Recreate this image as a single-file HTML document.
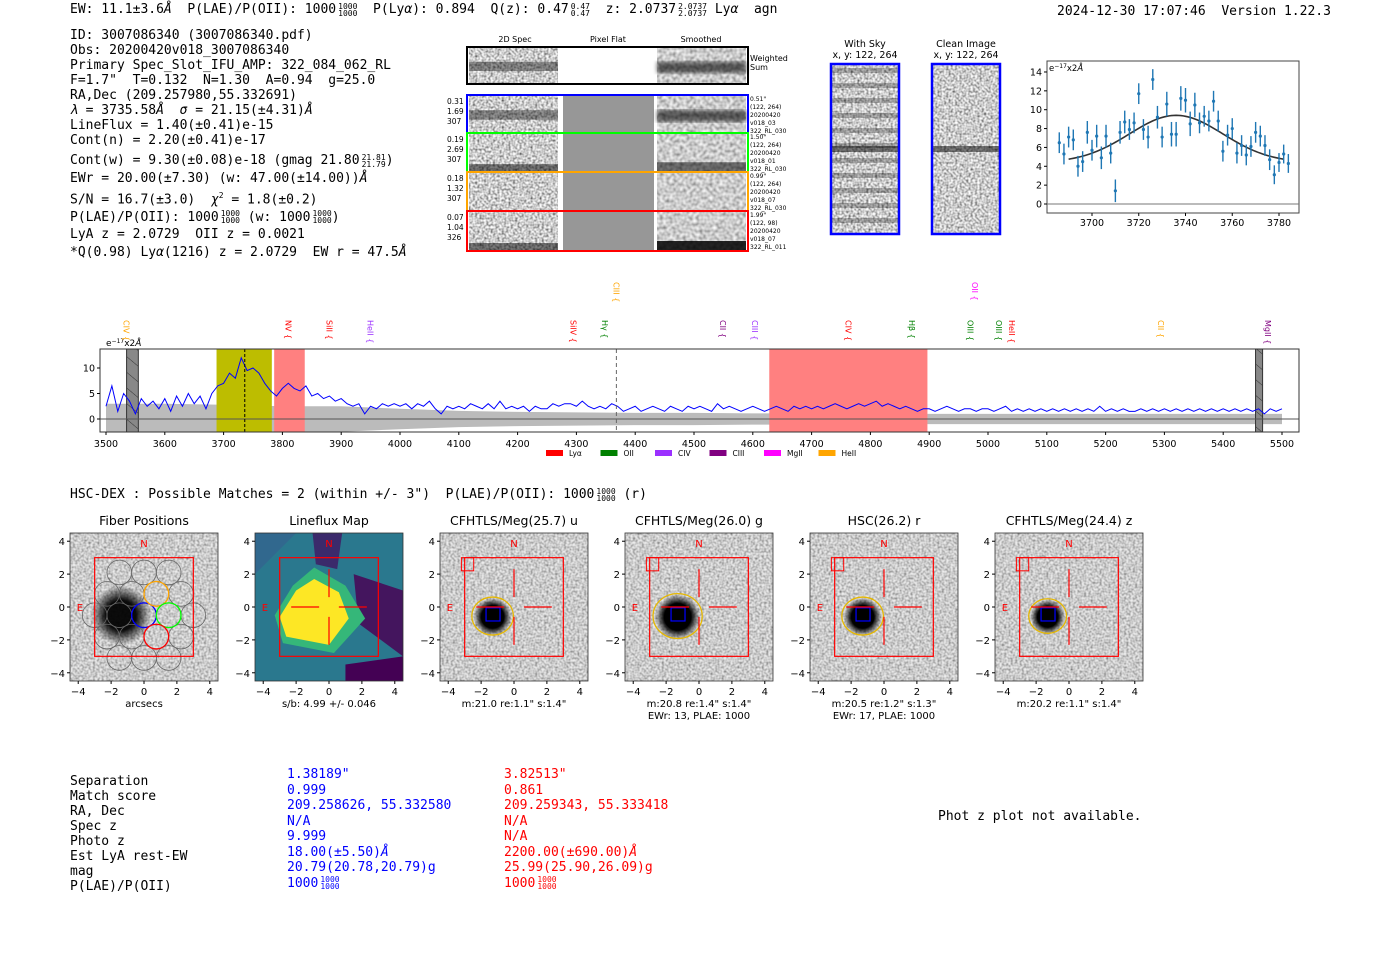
<!DOCTYPE html>
<html><head><meta charset="utf-8">
<style>
body{margin:0;width:1400px;height:953px;background:#fff;position:relative;overflow:hidden;font-family:"DejaVu Sans Mono","Liberation Mono",monospace;font-size:13px;color:#000}
.t{position:absolute;white-space:pre;line-height:15px}
.fr{display:inline-block;vertical-align:middle;font-size:8px;line-height:7px;text-align:center;margin-left:2px}
svg{position:absolute;left:0;top:0}
</style></head><body>
<svg id="g" width="1400" height="953">
<defs>
<filter id="noise" x="0" y="0" width="1" height="1"><feTurbulence type="fractalNoise" baseFrequency="0.45" numOctaves="1" seed="3"/><feColorMatrix type="matrix" values="1.6 0 0 0 -0.2  1.6 0 0 0 -0.2  1.6 0 0 0 -0.2  0 0 0 0 1"/></filter>
<filter id="noise2" x="0" y="0" width="1" height="1"><feTurbulence type="fractalNoise" baseFrequency="0.3" numOctaves="1" seed="7"/><feColorMatrix type="matrix" values="1.1 0 0 0 0.05  1.1 0 0 0 0.05  1.1 0 0 0 0.05  0 0 0 0 1"/></filter>
<filter id="blur2"><feGaussianBlur stdDeviation="2"/></filter>
<radialGradient id="blob"><stop offset="0" stop-color="#000"/><stop offset="0.6" stop-color="#000"/><stop offset="1" stop-color="#000" stop-opacity="0"/></radialGradient>
<radialGradient id="blob1"><stop offset="0" stop-color="#000"/><stop offset="0.5" stop-color="#000"/><stop offset="1" stop-color="#000" stop-opacity="0"/></radialGradient>
<clipPath id="specclip"><rect x="100" y="349" width="1199" height="83"/></clipPath>
<pattern id="hatch" width="12" height="12" patternUnits="userSpaceOnUse" patternTransform="rotate(-50)"><line x1="0" y1="0" x2="0" y2="12" stroke="#333" stroke-width="1"/></pattern>
</defs>
</svg>

<div class="t" style="left:70px;top:2px">EW: 11.1±3.6<i>Å</i>  P(LAE)/P(OII): 1000<span class="fr">1000<br>1000</span>  P(Ly<i>α</i>): 0.894  Q(z): 0.47<span class="fr">0.47<br>0.47</span>  z: 2.0737<span class="fr">2.0737<br>2.0737</span> Ly<i>α</i>  agn</div>
<div class="t" style="left:1057px;top:4px">2024-12-30 17:07:46  Version 1.22.3</div>

<div class="t" style="left:70px;top:28px;line-height:15px">ID: 3007086340 (3007086340.pdf)
Obs: 20200420v018_3007086340
Primary Spec_Slot_IFU_AMP: 322_084_062_RL
F=1.7"  T=0.132  N=1.30  A=0.94  g=25.0
RA,Dec (209.257980,55.332691)
<i>λ</i> = 3735.58<i>Å</i>  <i>σ</i> = 21.15(±4.31)<i>Å</i>
LineFlux = 1.40(±0.41)e-15
Cont(n) = 2.20(±0.41)e-17</div>
<div class="t" style="left:70px;top:152px;line-height:17.5px">Cont(w) = 9.30(±0.08)e-18 (gmag 21.80<span class="fr">21.81<br>21.79</span>)
EWr = 20.00(±7.30) (w: 47.00(±14.00))<i>Å</i>
S/N = 16.7(±3.0)  <i>χ</i><sup style="font-size:8px">2</sup> = 1.8(±0.2)
P(LAE)/P(OII): 1000<span class="fr">1000<br>1000</span> (w: 1000<span class="fr">1000<br>1000</span>)
LyA z = 2.0729  OII z = 0.0021
*Q(0.98) Ly<i>α</i>(1216) z = 2.0729  EW r = 47.5<i>Å</i></div>

<div class="t" style="left:70px;top:487px">HSC-DEX : Possible Matches = 2 (within +/- 3")  P(LAE)/P(OII): 1000<span class="fr">1000<br>1000</span> (r)</div>

<div class="t" style="left:70px;top:774px">Separation
Match score
RA, Dec
Spec z
Photo z
Est LyA rest-EW
mag
P(LAE)/P(OII)</div>
<div class="t" style="left:287px;top:767px;color:#0000ff;line-height:15.5px">1.38189"
0.999
209.258626, 55.332580
N/A
9.999
18.00(±5.50)<i>Å</i>
20.79(20.78,20.79)g
1000<span class="fr">1000<br>1000</span></div>
<div class="t" style="left:504px;top:767px;color:#ff0000;line-height:15.5px">3.82513"
0.861
209.259343, 55.333418
N/A
N/A
2200.00(±690.00)<i>Å</i>
25.99(25.90,26.09)g
1000<span class="fr">1000<br>1000</span></div>
<div class="t" style="left:938px;top:809px">Phot z plot not available.</div>

<script>
// ---------- data ----------
const specStart = 3500;
const specStep = 10;
const specFlux = [2.5,6.5,1.5,5,3.5,1,4,2.5,3.5,2,
4,1.5,4.5,2.5,5,3,4.5,2,5,6.5,
7,9,8,12,9.5,10,9,7,5.5,4.5,
6,7,6,5.5,6.5,4.5,5,4,4.5,3.5,
4,3,2.5,3,1,2.5,2,3,2.5,3,
2.5,3,2,3,2.5,3.5,2,1,2.5,2,
2.5,2,3,2.5,2,3,2,3.5,2,2.5,
2,2.5,1.5,2.5,2,2,3,2.5,3,3,
2.5,3.5,2.5,2,2.5,2,3,2.5,1.5,2,
2.5,1.5,2,2.5,2,1.5,2.5,2,1.5,2.5,
2,2.5,2,1.5,3,2,2.5,2,1.5,2,
2.5,2,1.5,2,2.5,2,1.5,2.5,2,2.5,
2,2.5,2,2.5,3,2.5,2,2.5,3,2.5,
3,3.5,2.5,3,2.5,2,2.5,2,1.5,2,
2,1.5,2,2.5,2,1.5,2,2,1.5,2,
2,1.5,2,2.5,1.5,2,1.5,2,1.5,2,
1.5,2,1.5,2,1.5,2,1.5,2,1.5,2.5,
1.5,2,1.5,2,1.5,1.5,2,1.5,2,1.5,
2,1.5,2,1.5,2,1.5,2,1.5,2,1.5,
2,1.5,2,1.5,2,1.5,2,1,2,1.5,2];
const errStep = 100;
const specErr = [3,3,2.8,2.5,2.5,2,1.6,1.4,1.3,1.2,1.2,1.1,1.1,1,1,1,1,1,1,1,1];
const specXTicks = [3500,3600,3700,3800,3900,4000,4100,4200,4300,4400,4500,4600,4700,4800,4900,5000,5100,5200,5300,5400,5500];
const specYTicks = [0,5,10];
const lineNames = ["CIV","NV","SiII","HeII","SiIV","CIII","Hγ","CII","CIII","CIV","Hβ","OII","OIII","OIII","HeII","CII","MgII"];
const lineWaves = [3535,3810,3880,3950,4295,4368,4349,4549,4604,4763,4871,4978,4970,5019,5041,5294,5476];
const lineColors = ["#ffa500","#ff0000","#ff0000","#9b30ff","#ff0000","#ffa500","#008000","#800080","#9b30ff","#ff0000","#008000","#ff00ff","#008000","#008000","#ff0000","#ffa500","#800080"];
const lineHigh = [0,0,0,0,0,1,0,0,0,0,0,1,0,0,0,0,0];
const legendNames = ["Lyα","OII","CIV","CIII","MgII","HeII"];
const legendColors = ["#ff0000","#008000","#9b30ff","#800080","#ff00ff","#ffa500"];

const fitWaves = [3686,3688,3690,3692,3694,3696,3698,3700,3702,3704,3706,3708,3710,3712,3714,3716,3718,3720,3722,3724,3726,3728,3730,3732,3734,3736,3738,3740,3742,3744,3746,3748,3750,3752,3754,3756,3758,3760,3762,3764,3766,3768,3770,3772,3774,3776,3778,3780,3782,3784];
const fitFlux = [6.5,5.3,7.1,6.8,4.0,4.5,7.6,5.7,7.2,4.9,7.2,5.4,1.4,7.6,8.7,7.9,8.6,11.7,7.9,7.1,13.2,9.2,7.1,10.6,7.4,7.4,11.2,11.0,8.5,10.5,8.6,9.3,8.8,10.9,8.8,5.6,7.3,8.0,5.4,6.2,5.2,6.1,7.6,7.2,6.2,4.7,3.1,4.4,5.3,4.3];
const fitErr = [1.1,1.1,1.1,1.1,1.1,1.1,1.2,1.1,1.2,1.2,1.2,1.1,1.2,1.2,1.2,1.1,1.1,1.1,1.1,1.2,1.1,1.2,1.1,1.3,1.3,1.3,1.3,1.3,1.3,1.3,1.1,1.1,1.1,1.1,1.1,1.1,1.1,1.1,1.1,1.1,1.1,1.1,1.1,1.1,1.1,1.1,1.0,1.0,1.0,1.0];
const fitParams = [4.4, 5.0, 3736, 20]; // base, amp, center, sigma
const fitXTicks = [3700,3720,3740,3760,3780];
const fitYTicks = [0,2,4,6,8,10,12,14];

const NS="http://www.w3.org/2000/svg";
const svg=document.getElementById('g');
function mk(tag,attrs,parent){const e=document.createElementNS(NS,tag);for(const k in attrs)e.setAttribute(k,attrs[k]);(parent||svg).appendChild(e);return e;}
function txt(x,y,s,attrs,parent){const e=mk('text',Object.assign({x:x,y:y,'font-family':'DejaVu Sans, Liberation Sans, sans-serif','font-size':10},attrs||{}),parent);e.textContent=s;return e;}

// ---------- 2D spectra cutouts ----------
txt(515,42,"2D Spec",{'font-size':8,'text-anchor':'middle'});
txt(608,42,"Pixel Flat",{'font-size':8,'text-anchor':'middle'});
txt(701,42,"Smoothed",{'font-size':8,'text-anchor':'middle'});
const rows=[[47,84,'#000',null],[95,133,'#0000ff',["0.31","1.69","307"]],[133,172,'#00ff00',["0.19","2.69","307"]],[172,211,'#ffa500',["0.18","1.32","307"]],[211,251,'#ff0000',["0.07","1.04","326"]]];
const rlabels=[["Weighted","Sum"],["0.51\"","(122, 264)","20200420","v018_03","322_RL_030"],["1.50\"","(122, 264)","20200420","v018_01","322_RL_030"],["0.99\"","(122, 264)","20200420","v018_07","322_RL_030"],["1.99\"","(122, 98)","20200420","v018_07","322_RL_011"]];
rows.forEach((r,i)=>{
  const y0=r[0],h=r[1]-r[0];
  const a=mk('rect',{x:469,y:y0,width:89,height:h,fill:'#999',filter:'url(#noise)'});
  
  
  const b=mk('rect',{x:563,y:y0,width:91,height:h,fill:i==0?'#fff':'#979797'});
  
  
  const c=mk('rect',{x:657,y:y0,width:89,height:h,fill:'#aaa',filter:'url(#noise2)'});
  
  
  if(i<2){mk('rect',{x:469,y:y0+h*0.4,width:89,height:h*0.25,fill:'#000',opacity:0.4});mk('rect',{x:657,y:y0+h*0.4,width:89,height:h*0.3,fill:'#000',opacity:0.6,filter:'url(#blur2)'});}
  if(i==2||i==4){mk('rect',{x:657,y:y0+h*0.75,width:89,height:h*0.25,fill:'#000',opacity:i==4?0.85:0.5});mk('rect',{x:469,y:y0+h*0.8,width:89,height:h*0.2,fill:'#000',opacity:0.5});}
  const fr=mk('rect',{x:467,y:y0,width:281,height:h,fill:'none',stroke:r[2],'stroke-width':2});
  
  
  if(r[3]) r[3].forEach((s,k)=>txt(447,y0+9+k*10,s,{'font-size':7.5}));
  rlabels[i].forEach((s,k)=>txt(750,y0+(i==0?14:6)+k*(i==0?9:8),s,{'font-size':i==0?8:6}));
});
// sky images
[[831,"With Sky"],[932,"Clean Image"]].forEach((p,i)=>{
  txt(p[0]+34,47,p[1],{'font-size':9.5,'text-anchor':'middle'});
  txt(p[0]+34,58,"x, y: 122, 264",{'font-size':9.5,'text-anchor':'middle'});
  const im=mk('rect',{x:p[0],y:64,width:68,height:170,fill:'#999',filter:'url(#noise)'});
  
  
  if(i==0){for(let k=0;k<11;k++)mk('rect',{x:p[0],y:68+k*15,width:68,height:5,fill:'#000',opacity:0.25});}
  mk('rect',{x:p[0],y:146,width:68,height:6,fill:'#000',opacity:0.5});
  mk('rect',{x:p[0],y:64,width:68,height:170,fill:'none',stroke:'#0000ff','stroke-width':2.5});
});

// ---------- fit plot ----------
const fx=w=>1092+(w-3700)*2.3375, fy=v=>204-v*9.43;
const fbox=mk('rect',{x:1047,y:61,width:252,height:152,fill:'#fff',stroke:'#444','stroke-width':1});


mk('line',{x1:1047,x2:1299,y1:fy(0),y2:fy(0),stroke:'#777','stroke-width':1});
fitYTicks.forEach(v=>{mk('line',{x1:1044,x2:1047,y1:fy(v),y2:fy(v),stroke:'#000'});txt(1042,fy(v)+3.5,String(v),{'font-size':9.5,'text-anchor':'end'});});
fitXTicks.forEach(v=>{mk('line',{x1:fx(v),x2:fx(v),y1:213,y2:216,stroke:'#000'});txt(fx(v),226,String(v),{'font-size':9.5,'text-anchor':'middle'});});
txt(1049,71,"e",{'font-size':8.5}).innerHTML='e<tspan dy="-3" font-size="6">−17</tspan><tspan dy="3">x2</tspan><tspan font-style="italic">Å</tspan>';
let cp=[];
for(let w=3690;w<=3782;w+=1){const v=fitParams[0]+fitParams[1]*Math.exp(-Math.pow(w-fitParams[2],2)/(2*fitParams[3]*fitParams[3]));cp.push(fx(w)+','+fy(v));}
const fc=mk('polyline',{points:cp.join(' '),fill:'none',stroke:'#333','stroke-width':1.6});


fitWaves.forEach((w,i)=>{
  const eb=mk('line',{x1:fx(w),x2:fx(w),y1:fy(fitFlux[i]-fitErr[i]),y2:fy(fitFlux[i]+fitErr[i]),stroke:'#1f77b4','stroke-width':1.4});
  
  
  const pt=mk('circle',{cx:fx(w),cy:fy(fitFlux[i]),r:1.6,fill:'#1f77b4'});
  
  
});

// ---------- spectrum ----------
const sx=w=>106+(w-3500)*0.588, sy=v=>419-v*5.1;
const sbox=mk('rect',{x:100,y:349,width:1199,height:83,fill:'#fff',stroke:'#333','stroke-width':1});


const sg=mk('g',{'clip-path':'url(#specclip)'});
let up=[],dn=[];
specErr.forEach((e,i)=>{const w=3500+i*errStep;up.push(sx(w)+','+sy(e));dn.unshift(sx(w)+','+sy(-e));});
const band=mk('polygon',{points:up.concat(dn).join(' '),fill:'#bbb'},sg);


const regions=[[3535,3555,'#888',1],[5455,5467,'#888',1],[3688,3782,'#bdbd00',0],[3786,3838,'#ff8080',0],[4628,4897,'#ff8080',0]];
regions.forEach(r=>{
  const rr=mk('rect',{x:sx(r[0]),y:349,width:sx(r[1])-sx(r[0]),height:83,fill:r[2]},sg);
  
  
  if(r[3]){mk('rect',{x:sx(r[0]),y:349,width:sx(r[1])-sx(r[0]),height:83,fill:'url(#hatch)',stroke:'#333'},sg);}
});
mk('line',{x1:100,x2:1299,y1:sy(0),y2:sy(0),stroke:'#555','stroke-width':1},sg);
let sp=specFlux.map((v,i)=>sx(specStart+i*specStep)+','+sy(v));
const sl=mk('polyline',{points:sp.join(' '),fill:'none',stroke:'#0000ff','stroke-width':1},sg);


mk('line',{x1:sx(3736),x2:sx(3736),y1:349,y2:432,stroke:'#000','stroke-dasharray':'3,2'},sg);
mk('line',{x1:sx(4368),x2:sx(4368),y1:349,y2:432,stroke:'#666','stroke-dasharray':'4,3'},sg);
mk('rect',{x:100,y:349,width:1199,height:83,fill:'none',stroke:'#333','stroke-width':1});
specXTicks.forEach(v=>{mk('line',{x1:sx(v),x2:sx(v),y1:432,y2:435,stroke:'#000'});txt(sx(v),447,String(v),{'font-size':9.5,'text-anchor':'middle'});});
specYTicks.forEach(v=>{mk('line',{x1:97,x2:100,y1:sy(v),y2:sy(v),stroke:'#000'});txt(95,sy(v)+3.5,String(v),{'font-size':9.5,'text-anchor':'end'});});
txt(106,346,"e",{'font-size':9}).innerHTML='e<tspan dy="-3" font-size="6">−17</tspan><tspan dy="3">x2</tspan><tspan font-style="italic">Å</tspan>';
lineNames.forEach((n,i)=>{
  const x=sx(lineWaves[i]);const y0=lineHigh[i]?282:320;
  const t=txt(x-3,y0,n+' {',{'font-size':8,fill:lineColors[i],transform:'rotate(90 '+(x-3)+' '+y0+')'});
  
  
});
legendNames.forEach((n,i)=>{
  const x=546+i*54.5;
  const r=mk('rect',{x:x,y:450,width:17,height:6,fill:legendColors[i]});
  
  
  txt(x+23,456,n,{'font-size':7.5});
});

// ---------- image panels ----------
const panelTitles=["Fiber Positions","Lineflux Map","CFHTLS/Meg(25.7) u","CFHTLS/Meg(26.0) g","HSC(26.2) r","CFHTLS/Meg(24.4) z"];
const panelSubs=[["arcsecs"],["s/b: 4.99 +/- 0.046"],["m:21.0  re:1.1\"  s:1.4\""],["m:20.8  re:1.4\"  s:1.4\"","EWr: 13, PLAE: 1000"],["m:20.5  re:1.2\"  s:1.3\"","EWr: 17, PLAE: 1000"],["m:20.2  re:1.1\"  s:1.4\""]];
const blobR=[0,0,1.1,1.3,1.1,1.0];
const ticks=[-4,-2,0,2,4];
panelTitles.forEach((title,p)=>{
  const L=70+p*185, T=533, S=148;
  const px=u=>L+(u+4.5)*S/9, py=u=>T+(4.5-u)*S/9;
  const g=mk('g',{});
  
  
  const cp=mk('clipPath',{id:'pc'+p},g);mk('rect',{x:L,y:T,width:S,height:S},cp);
  const ig=mk('g',{'clip-path':'url(#pc'+p+')'},g);
  if(p==1){
    mk('rect',{x:L,y:T,width:S,height:S,fill:'#2a788e'},ig);
    mk('polygon',{points:[[px(-1),py(4.5)],[px(0.8),py(4.5)],[px(0.5),py(2.3)],[px(-0.8),py(2.6)]].join(' '),fill:'#3b2a6b'},ig);
    mk('polygon',{points:[[px(1.5),py(2)],[px(4.5),py(1)],[px(4.5),py(-3)],[px(1.8),py(-1)]].join(' '),fill:'#44155e'},ig);
    mk('polygon',{points:[[px(1),py(-3.5)],[px(4.5),py(-3)],[px(4.5),py(-4.5)],[px(1),py(-4.5)]].join(' '),fill:'#440154'},ig);
    mk('polygon',{points:[[px(-4.5),py(4.5)],[px(-2),py(4.5)],[px(-4.5),py(2)]].join(' '),fill:'#31688e'},ig);
    mk('polygon',{points:[[px(-2.2),py(1.3)],[px(-0.9),py(2.4)],[px(1),py(1.3)],[px(2.2),py(-0.7)],[px(0.3),py(-2.8)],[px(-2.8),py(-2.2)],[px(-3.3),py(-0.5)]].join(' '),fill:'#35b779'},ig);
    const y=mk('polygon',{points:[[px(-2),py(1)],[px(-0.9),py(1.7)],[px(0.6),py(0.9)],[px(1.2),py(-0.7)],[px(0),py(-2.3)],[px(-2.6),py(-1.8)],[px(-3),py(-0.6)]].join(' '),fill:'#fde725'},ig);
    
    
  } else {
    mk('rect',{x:L,y:T,width:S,height:S,fill:'#aaa',filter:'url(#noise)'},ig);
    mk('rect',{x:L,y:T,width:S,height:S,fill:'#ccc',opacity:0.35},ig);
    if(p==0){
      mk('circle',{cx:px(-1.4),cy:py(-0.5),r:30,fill:'url(#blob1)',opacity:0.95},ig);
      for(let j=-3;j<=3;j++)for(let i=-4;i<=4;i++){
        const cx=(i+(Math.abs(j)%2?0.5:0))*1.5, cy=j*1.3;
        if(Math.hypot(cx,cy)<3.6) mk('circle',{cx:px(cx),cy:py(cy-0.5),r:S/9*0.75,fill:'none',stroke:'#666','stroke-width':0.8},ig);
      }
      [[0,-0.5,'#0000ff'],[0.75,0.8,'#ffa500'],[1.5,-0.5,'#00ff00'],[0.75,-1.8,'#ff0000']].forEach(c=>mk('circle',{cx:px(c[0]),cy:py(c[1]),r:S/9*0.75,fill:'none',stroke:c[2],'stroke-width':1.3},ig));
    } else {
      const r=blobR[p]*S/9;
      mk('circle',{cx:px(-1.3),cy:py(-0.6),r:r*1.05,fill:'url(#blob)'},ig);
      mk('ellipse',{cx:px(-1.3),cy:py(-0.55),rx:r*1.15,ry:r*1.05,fill:'none',stroke:'#e6b800','stroke-width':1.3},ig);
      mk('rect',{x:px(-1.7),y:py(-0.05),width:S/9*0.85,height:S/9*0.8,fill:'none',stroke:'#0000ff','stroke-width':1.2},ig);
      mk('rect',{x:px(-3.2),y:py(3.0),width:S/9*0.75,height:S/9*0.8,fill:'none',stroke:'#ff0000','stroke-width':1},ig);
    }
  }
  mk('rect',{x:px(-3),y:py(3),width:6*S/9,height:6*S/9,fill:'none',stroke:'#ff0000','stroke-width':1.2},g);
  if(p>0){
    [[0,0.6,0,2.3],[0,-0.6,0,-2.3],[0.6,0,2.3,0],[-2.3,0,-0.6,0]].forEach(s=>mk('line',{x1:px(s[0]),y1:py(s[1]),x2:px(s[2]),y2:py(s[3]),stroke:'#ff0000','stroke-width':1.2},g));
  }
  txt(px(0),py(3.9)+4,"N",{'font-size':10,fill:'#ff0000','text-anchor':'middle'},g);
  txt(px(-3.9),py(0)+4,"E",{'font-size':10,fill:'#ff0000','text-anchor':'middle'},g);
  mk('rect',{x:L,y:T,width:S,height:S,fill:'none',stroke:'#333','stroke-width':0.8},g);
  ticks.forEach(v=>{
    mk('line',{x1:px(v),x2:px(v),y1:T+S,y2:T+S+3,stroke:'#000'},g);
    txt(px(v),T+S+14,v<0?'−'+(-v):String(v),{'font-size':10,'text-anchor':'middle'},g);
    mk('line',{x1:L-3,x2:L,y1:py(v),y2:py(v),stroke:'#000'},g);
    txt(L-5,py(v)+4,v<0?'−'+(-v):String(v),{'font-size':10,'text-anchor':'end'},g);
  });
  txt(L+S/2,T-8,title,{'font-size':12.5,'text-anchor':'middle'},g);
  panelSubs[p].forEach((s,k)=>txt(L+S/2,T+S+26+k*12,s,{'font-size':10,'text-anchor':'middle'},g));
});
</script>
</body></html>
